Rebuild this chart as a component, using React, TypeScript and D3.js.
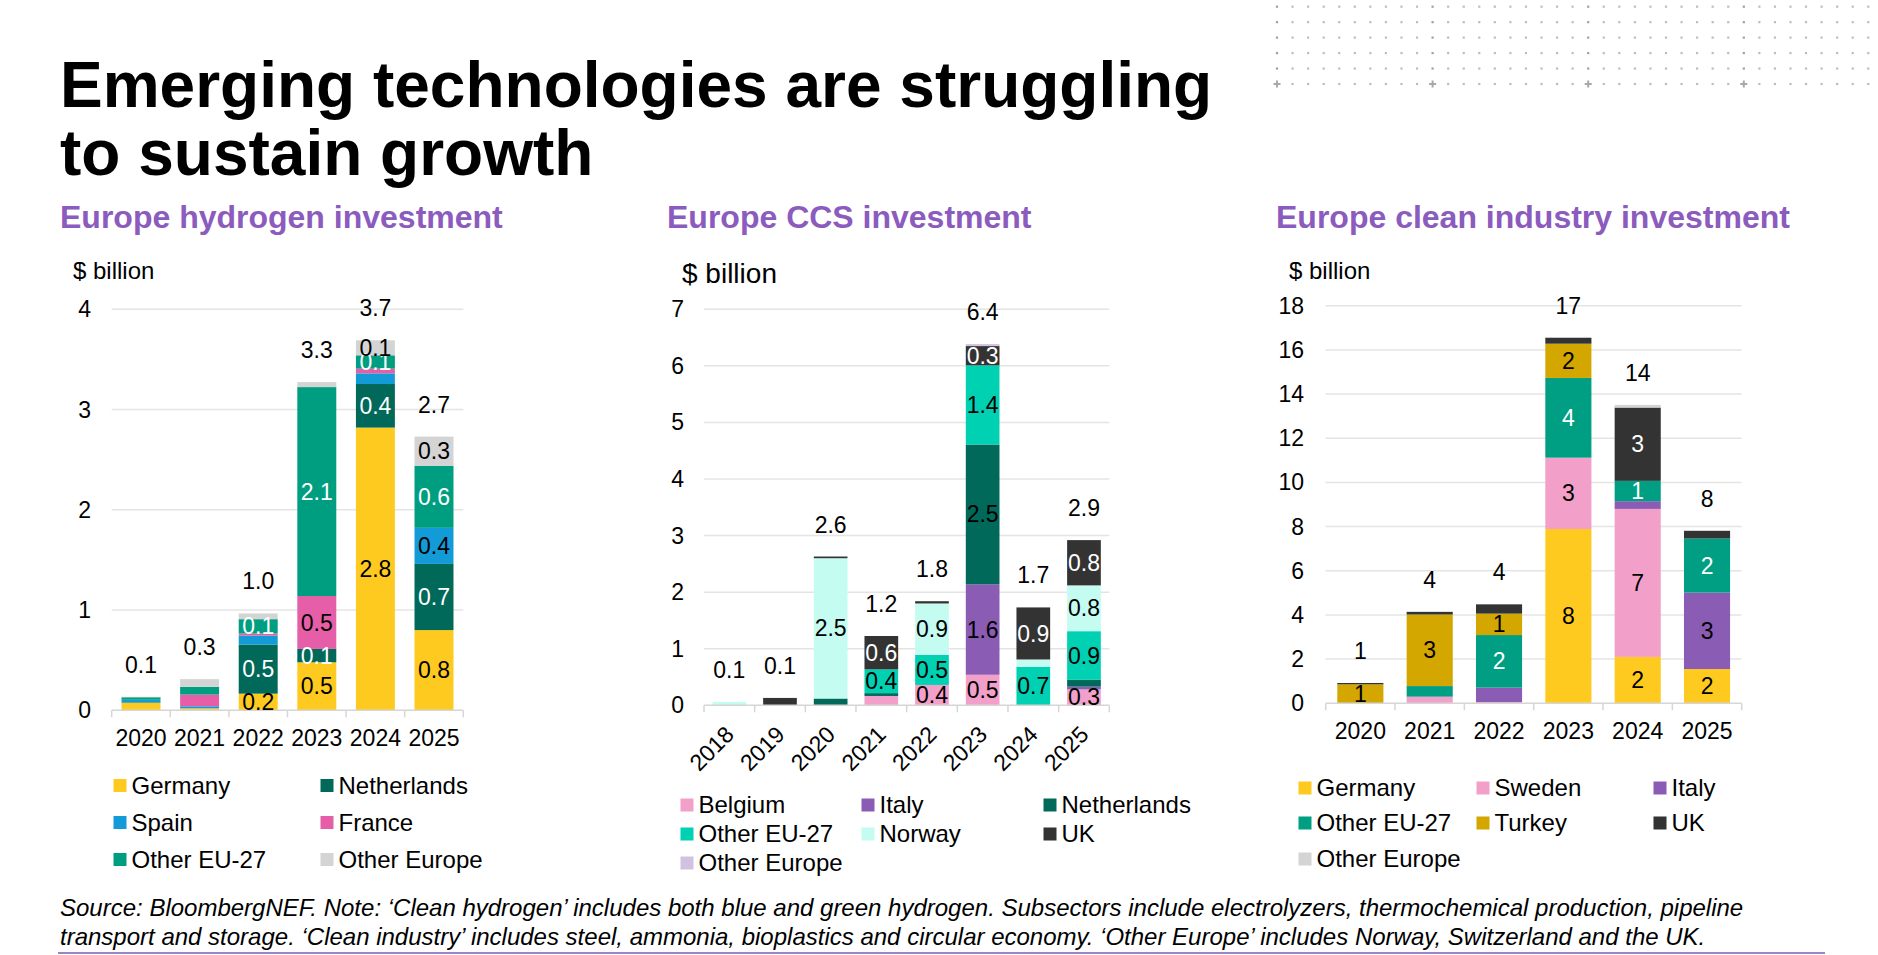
import { useEffect, useRef } from "react";
import * as d3 from "d3";

const FONT = "'Liberation Sans', Arial, Helvetica, sans-serif";
const PURPLE = "#8B5BBE";

// ---- Europe hydrogen investment ($ billion)
const H2_YEARS = ["2020", "2021", "2022", "2023", "2024", "2025"];
const H2_SERIES = ["Germany", "Netherlands", "Spain", "France", "Other EU-27", "Other Europe"];
const H2_COLORS = ["#FFCA1F", "#00695A", "#139BD7", "#E75EA8", "#009E80", "#D4D4D4"];
const H2_TEXT = ["#000", "#fff", "#000", "#000", "#fff", "#000"];
const H2_GERMANY = [0.075, 0.02, 0.166, 0.479, 2.82, 0.8];
const H2_NETHERLANDS = [0.005, 0, 0.49, 0.133, 0.435, 0.66];
const H2_SPAIN = [0.025, 0.02, 0.09, 0, 0.106, 0.36];
const H2_FRANCE = [0, 0.117, 0.02, 0.528, 0.047, 0];
const H2_OTHER_EU = [0.025, 0.077, 0.143, 2.084, 0.133, 0.62];
const H2_OTHER_EUROPE = [0.005, 0.077, 0.057, 0.05, 0.15, 0.29];

// ---- Europe CCS investment ($ billion)
const CCS_YEARS = ["2018", "2019", "2020", "2021", "2022", "2023", "2024", "2025"];
const CCS_SERIES = ["Belgium", "Italy", "Netherlands", "Other EU-27", "Norway", "UK", "Other Europe"];
const CCS_COLORS = ["#F2A0C9", "#8A5CB4", "#00695A", "#00D1B2", "#C4FCF1", "#333333", "#D3C1E2"];
const CCS_TEXT = ["#000", "#000", "#000", "#000", "#000", "#fff", "#000"];
const CCS_BELGIUM = [0, 0, 0, 0.165, 0.36, 0.54, 0, 0.28];
const CCS_ITALY = [0, 0, 0, 0, 0, 1.6, 0, 0.05];
const CCS_NETHERLANDS = [0, 0, 0.12, 0.05, 0, 2.47, 0, 0.12];
const CCS_OTHER_EU = [0.01, 0, 0, 0.42, 0.53, 1.4, 0.68, 0.86];
const CCS_NORWAY = [0.05, 0, 2.48, 0, 0.91, 0, 0.13, 0.81];
const CCS_UK = [0, 0.13, 0.03, 0.59, 0.04, 0.34, 0.92, 0.8];
const CCS_OTHER_EUROPE = [0, 0, 0, 0, 0, 0.035, 0, 0];

// ---- Europe clean industry investment ($ billion)
const IND_YEARS = ["2020", "2021", "2022", "2023", "2024", "2025"];
const IND_SERIES = ["Germany", "Sweden", "Italy", "Other EU-27", "Turkey", "UK", "Other Europe"];
const IND_COLORS = ["#FFCA1F", "#F2A0C9", "#8A5CB4", "#009E82", "#D4A600", "#333333", "#D4D4D4"];
const IND_TEXT = ["#000", "#000", "#000", "#fff", "#000", "#fff", "#000"];
const IND_GERMANY = [0, 0, 0, 7.89, 2.1, 1.55];
const IND_SWEDEN = [0, 0.3, 0.05, 3.23, 6.7, 0];
const IND_ITALY = [0, 0, 0.66, 0, 0.35, 3.46];
const IND_OTHER_EU = [0, 0.48, 2.38, 3.61, 0.92, 2.45];
const IND_TURKEY = [0.86, 3.24, 0.97, 1.55, 0, 0];
const IND_UK = [0.06, 0.12, 0.42, 0.27, 3.32, 0.35];
const IND_OTHER_EUROPE = [0, 0, 0, 0, 0.12, 0];

const TITLE_LINES = ["Emerging technologies are struggling", "to sustain growth"];
const SOURCE_LINES = [
  "Source: BloombergNEF. Note: \u2018Clean hydrogen\u2019 includes both blue and green hydrogen. Subsectors include electrolyzers, thermochemical production, pipeline",
  "transport and storage. \u2018Clean industry\u2019 includes steel, ammonia, bioplastics and circular economy. \u2018Other Europe\u2019 includes Norway, Switzerland and the UK.",
];

interface ChartCfg {
  title: string;
  titleX: number;
  years: string[];
  series: string[];
  colors: string[];
  textColors: string[];
  values: number[][];
  max: number;
  tickStep: number;
  left: number;
  right: number;
  zeroY: number;
  topY: number;
  tickLabelX: number;
  xLabelY: number;
  rotateX: boolean;
  unitX: number;
  unitY: number;
  unitSize: number;
  legendCols: number[];
  legendRows: number[];
  threshold: number;
  fmt: string;
}

const CHARTS: ChartCfg[] = [
  {
    title: "Europe hydrogen investment",
    titleX: 60,
    years: H2_YEARS,
    series: H2_SERIES,
    colors: H2_COLORS,
    textColors: H2_TEXT,
    values: [H2_GERMANY, H2_NETHERLANDS, H2_SPAIN, H2_FRANCE, H2_OTHER_EU, H2_OTHER_EUROPE],
    max: 4,
    tickStep: 1,
    left: 111.7,
    right: 463.3,
    zeroY: 710.3,
    topY: 309.3,
    tickLabelX: 91,
    xLabelY: 746,
    rotateX: false,
    unitX: 73,
    unitY: 279,
    unitSize: 24,
    legendCols: [113.5, 320.5],
    legendRows: [785.5, 822.5, 859.5],
    threshold: 0.12,
    fmt: ".1f",
  },
  {
    title: "Europe CCS investment",
    titleX: 667,
    years: CCS_YEARS,
    series: CCS_SERIES,
    colors: CCS_COLORS,
    textColors: CCS_TEXT,
    values: [CCS_BELGIUM, CCS_ITALY, CCS_NETHERLANDS, CCS_OTHER_EU, CCS_NORWAY, CCS_UK, CCS_OTHER_EUROPE],
    max: 7,
    tickStep: 1,
    left: 704,
    right: 1109.3,
    zeroY: 705.3,
    topY: 309.3,
    tickLabelX: 684,
    xLabelY: 736,
    rotateX: true,
    unitX: 682,
    unitY: 283,
    unitSize: 28,
    legendCols: [680.5, 861.5, 1043.5],
    legendRows: [805, 834, 863],
    threshold: 0.2,
    fmt: ".1f",
  },
  {
    title: "Europe clean industry investment",
    titleX: 1276,
    years: IND_YEARS,
    series: IND_SERIES,
    colors: IND_COLORS,
    textColors: IND_TEXT,
    values: [IND_GERMANY, IND_SWEDEN, IND_ITALY, IND_OTHER_EU, IND_TURKEY, IND_UK, IND_OTHER_EUROPE],
    max: 18,
    tickStep: 2,
    left: 1325.7,
    right: 1741.7,
    zeroY: 703.3,
    topY: 305.7,
    tickLabelX: 1304,
    xLabelY: 739,
    rotateX: false,
    unitX: 1289,
    unitY: 279,
    unitSize: 24,
    legendCols: [1298.5, 1476.5, 1653.5],
    legendRows: [788, 823, 859],
    threshold: 0.8,
    fmt: ".0f",
  },
];

function drawChart(svg: d3.Selection<SVGSVGElement, unknown, null, undefined>, cfg: ChartCfg) {
  const g = svg.append("g");
  const n = cfg.years.length;

  const x = d3
    .scaleBand<string>()
    .domain(cfg.years)
    .range([cfg.left, cfg.right])
    .paddingInner(0.335)
    .paddingOuter(0.1675);
  const y = d3.scaleLinear().domain([0, cfg.max]).range([cfg.zeroY, cfg.topY]);

  // subtitle
  g.append("text")
    .attr("x", cfg.titleX)
    .attr("y", 228)
    .attr("font-size", "32px")
    .attr("font-weight", "bold")
    .attr("fill", PURPLE)
    .text(cfg.title);

  // unit
  g.append("text")
    .attr("x", cfg.unitX)
    .attr("y", cfg.unitY)
    .attr("font-size", `${cfg.unitSize}px`)
    .attr("fill", "#000")
    .text("$ billion");

  // gridlines + y labels
  const ticks = d3.range(0, cfg.max + 0.001, cfg.tickStep);
  ticks.forEach((t) => {
    if (t > 0) {
      g.append("line")
        .attr("x1", cfg.left)
        .attr("x2", cfg.right)
        .attr("y1", y(t))
        .attr("y2", y(t))
        .attr("stroke", "#E4E4E4")
        .attr("stroke-width", 1.5);
    }
    g.append("text")
      .attr("x", cfg.tickLabelX)
      .attr("y", y(t))
      .attr("dy", "0.35em")
      .attr("text-anchor", "end")
      .attr("font-size", "23px")
      .attr("fill", "#000")
      .text(t);
  });

  // stacked bars
  const rows = cfg.years.map((yr, j) => {
    const row: Record<string, number | string> = { year: yr };
    cfg.series.forEach((s, i) => (row[s] = cfg.values[i][j]));
    return row;
  });
  const stacked = d3
    .stack<Record<string, number | string>>()
    .keys(cfg.series)
    .value((d, key) => d[key] as number)(rows);

  stacked.forEach((layer, i) => {
    g.append("g")
      .selectAll("rect")
      .data(layer)
      .join("rect")
      .attr("x", (d) => x(d.data.year as string)!)
      .attr("width", x.bandwidth())
      .attr("y", (d) => y(d[1]))
      .attr("height", (d) => Math.max(0, y(d[0]) - y(d[1])))
      .attr("fill", cfg.colors[i]);
  });

  // axis line + category ticks
  g.append("line")
    .attr("x1", cfg.left)
    .attr("x2", cfg.right)
    .attr("y1", cfg.zeroY)
    .attr("y2", cfg.zeroY)
    .attr("stroke", "#D6D6D6")
    .attr("stroke-width", 1.5);
  d3.range(n + 1).forEach((i) => {
    const bx = cfg.left + (i * (cfg.right - cfg.left)) / n;
    g.append("line")
      .attr("x1", bx)
      .attr("x2", bx)
      .attr("y1", cfg.zeroY)
      .attr("y2", cfg.zeroY + 7)
      .attr("stroke", "#D6D6D6")
      .attr("stroke-width", 1.5);
  });

  // segment labels
  const fmt = d3.format(cfg.fmt);
  stacked.forEach((layer, i) => {
    layer.forEach((d) => {
      const v = d[1] - d[0];
      if (v < cfg.threshold) return;
      g.append("text")
        .attr("x", x(d.data.year as string)! + x.bandwidth() / 2)
        .attr("y", y((d[0] + d[1]) / 2))
        .attr("dy", "0.35em")
        .attr("text-anchor", "middle")
        .attr("font-size", "23px")
        .attr("fill", cfg.textColors[i])
        .text(fmt(v));
    });
  });

  // totals
  cfg.years.forEach((yr, j) => {
    const total = d3.sum(cfg.values, (vals) => vals[j]);
    g.append("text")
      .attr("x", x(yr)! + x.bandwidth() / 2)
      .attr("y", y(total) - 24)
      .attr("text-anchor", "middle")
      .attr("font-size", "23px")
      .attr("fill", "#000")
      .text(fmt(total));
  });

  // x labels
  cfg.years.forEach((yr) => {
    const cx = x(yr)! + x.bandwidth() / 2;
    if (cfg.rotateX) {
      g.append("text")
        .attr("transform", `translate(${cx + 6},${cfg.xLabelY}) rotate(-45)`)
        .attr("text-anchor", "end")
        .attr("font-size", "23px")
        .attr("fill", "#000")
        .text(yr);
    } else {
      g.append("text")
        .attr("x", cx)
        .attr("y", cfg.xLabelY)
        .attr("text-anchor", "middle")
        .attr("font-size", "23px")
        .attr("fill", "#000")
        .text(yr);
    }
  });

  // legend
  const ncol = cfg.legendCols.length;
  cfg.series.forEach((s, i) => {
    const lx = cfg.legendCols[i % ncol];
    const ly = cfg.legendRows[Math.floor(i / ncol)];
    g.append("rect")
      .attr("x", lx)
      .attr("y", ly - 6.5)
      .attr("width", 13)
      .attr("height", 13)
      .attr("fill", cfg.colors[i]);
    g.append("text")
      .attr("x", lx + 18)
      .attr("y", ly)
      .attr("dy", "0.35em")
      .attr("font-size", "24px")
      .attr("fill", "#000")
      .text(s);
  });
}

export default function App() {
  const svgRef = useRef<SVGSVGElement>(null);

  useEffect(() => {
    if (!svgRef.current) return;
    const svg = d3.select(svgRef.current);
    svg.selectAll("*").remove();

    svg.append("rect").attr("width", 1878).attr("height", 955).attr("fill", "#fff");

    // dotted decoration, top right
    const deco = svg.append("g");
    d3.range(6).forEach((r) => {
      const dy = 6.7 + r * 15.46;
      d3.range(39).forEach((c) => {
        const dx = 1277 + c * 15.56;
        if (r === 5 && c % 10 === 0) {
          deco.append("rect").attr("x", dx - 3.5).attr("y", dy - 1).attr("width", 7).attr("height", 2).attr("fill", "#A8A8A8");
          deco.append("rect").attr("x", dx - 1).attr("y", dy - 3.5).attr("width", 2).attr("height", 7).attr("fill", "#A8A8A8");
        } else {
          deco
            .append("rect")
            .attr("x", dx - 1.1)
            .attr("y", dy - 1.1)
            .attr("width", 2.2)
            .attr("height", 2.2)
            .attr("fill", c % 10 === 0 ? "#A0A0A0" : "#BDBDBD");
        }
      });
    });

    // title
    TITLE_LINES.forEach((line, i) => {
      svg
        .append("text")
        .attr("x", 60)
        .attr("y", 107 + i * 68)
        .attr("font-size", "64px")
        .attr("font-weight", "bold")
        .attr("fill", "#000")
        .text(line);
    });

    CHARTS.forEach((cfg) => drawChart(svg, cfg));

    // source
    SOURCE_LINES.forEach((line, i) => {
      svg
        .append("text")
        .attr("x", 60)
        .attr("y", 916 + i * 29)
        .attr("font-size", "24px")
        .attr("font-style", "italic")
        .attr("fill", "#000")
        .text(line);
    });
    svg
      .append("line")
      .attr("x1", 58)
      .attr("x2", 1825)
      .attr("y1", 953)
      .attr("y2", 953)
      .attr("stroke", "#9B84C9")
      .attr("stroke-width", 2);
  }, []);

  return (
    <svg
      ref={svgRef}
      width={1878}
      height={955}
      style={{ position: "absolute", left: 0, top: 0, fontFamily: FONT }}
    />
  );
}
